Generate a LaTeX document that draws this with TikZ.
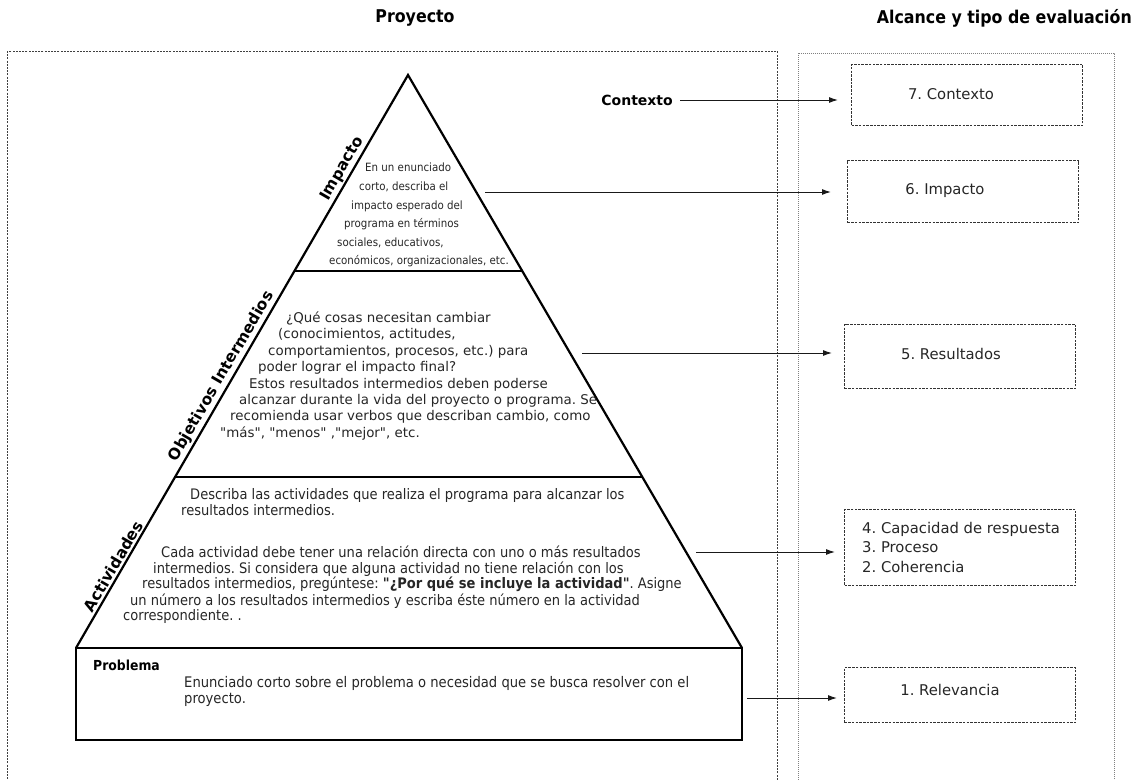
\documentclass[tikz,border=0pt]{standalone}
\usepackage{fontspec}
\setmainfont{DejaVu Sans}[Ligatures=TeXOff]
\newfontfamily\tah{DejaVu Sans}[FakeStretch=0.9,Ligatures=TeXOff]
\usetikzlibrary{arrows.meta,calc}
\begin{document}
\frenchspacing
\begin{tikzpicture}[x=1pt,y=-1pt,
  pyr/.style={line width=2.2pt, black, line join=miter},
  projbox/.style={draw=black!75, line width=0.7pt, dash pattern=on 2pt off 1.2pt},
  evalouter/.style={draw=black!50, line width=0.7pt, dash pattern=on 1.2pt off 0.8pt},
  evalbox/.style={draw=black!80, line width=1pt, dash pattern=on 2.5pt off 1.2pt, inner sep=0pt},
  arr/.style={-{Latex[length=9pt,width=6pt]}, line width=1pt, black!90},
  head/.style={font=\tah\bfseries\fontsize{17.6}{21}\selectfont, inner sep=0pt},
  side/.style={font=\bfseries\fontsize{15.5}{18}\selectfont, inner sep=2.5pt},
  imptext/.style={font=\tah\fontsize{11.4}{14}\selectfont, inner sep=0pt, anchor=base west, text=black!85},
  acttext/.style={font=\tah\fontsize{14.5}{16}\selectfont, inner sep=0pt, anchor=base west, text=black!85},
  probtext/.style={font=\tah\fontsize{14.6}{16}\selectfont, inner sep=0pt, anchor=base west, text=black!85},
  objtext/.style={font=\fontsize{13.4}{16}\selectfont, inner sep=0pt, anchor=base west, text=black!85},
  evaltext/.style={font=\fontsize{14.8}{19.5}\selectfont, text=black!85, inner sep=0pt},
]
\useasboundingbox (0,0) rectangle (1135,779);
\clip (0,0) rectangle (1135,779);

% headings
\node[head] (hproj) at (415,18) {Proyecto};
\node[head, anchor=east] (heval) at (1132,18) {Alcance y tipo de evaluación};

% outer frames
\draw[projbox] (7,51) rectangle (777,800);
\draw[evalouter] (798,53) rectangle (1114,800);

% pyramid
\coordinate (apex) at (408,75);
\coordinate (bl) at (76,648);
\coordinate (br) at (742,648);
\draw[pyr] (bl) -- (apex) -- (br);
\draw[pyr] ($(bl)!0.658!(apex)$) -- ($(br)!0.658!(apex)$);
\draw[pyr] ($(bl)!0.2984!(apex)$) -- ($(br)!0.2984!(apex)$);
\draw[pyr] (bl) rectangle (742,740);

% side labels
\path (bl) -- (apex)
  node[side, pos=0.828, sloped, above] (limp) {Impacto}
  node[side, pos=0.465, sloped, above] (lobj) {Objetivos Intermedios}
  node[side, pos=0.135, sloped, above] (lact) {Actividades};

% impact text
\foreach [count=\i] \x/\y/\t in {
  365/171/{En un enunciado},
  359/190/{corto, describa el},
  351/209/{impacto esperado del},
  344/227/{programa en términos},
  337/246/{sociales, educativos,},
  329/264/{económicos, organizacionales, etc.}}
  \node[imptext] (imp\i) at (\x,\y) {\t};

% objectives text
\foreach [count=\i] \x/\y/\t in {
  286/322/{¿Qué cosas necesitan cambiar},
  278/338/{(conocimientos, actitudes,},
  268/355/{comportamientos, procesos, etc.) para},
  258/371/{poder lograr el impacto final?},
  249/388/{Estos resultados intermedios deben poderse},
  239/404/{alcanzar durante la vida del proyecto o programa. Se},
  230/420/{recomienda usar verbos que describan cambio, como},
  220/437/{"más", "menos" ,"mejor", etc.}}
  \node[objtext] (obj\i) at (\x,\y) {\t};

% activities text
\foreach [count=\i] \x/\y/\t in {
  190/499/{Describa las actividades que realiza el programa para alcanzar los},
  181/515/{resultados intermedios.},
  161/557/{Cada actividad debe tener una relación directa con uno o más resultados},
  153/573/{intermedios. Si considera que alguna actividad no tiene relación con los},
  142/588/{resultados intermedios, pregúntese: \textbf{"¿Por qué se incluye la actividad"}. Asigne},
  130/605/{un número a los resultados intermedios y escriba éste número en la actividad},
  123/620/{correspondiente. .}}
  \node[acttext] (act\i) at (\x,\y) {\t};

% problem
\node[font=\tah\bfseries\fontsize{13.8}{16}\selectfont, anchor=base west, inner sep=0pt] (prob) at (93,670) {Problema};
\node[probtext] (prob1) at (184,687) {Enunciado corto sobre el problema o necesidad que se busca resolver con el};
\node[probtext] (prob2) at (184,703) {proyecto.};

% evaluation boxes
\node[evalbox, anchor=north west, minimum width=231pt, minimum height=61pt] (e7) at (851,64) {};
\node[evalbox, anchor=north west, minimum width=231pt, minimum height=62pt] (e6) at (847,160) {};
\node[evalbox, anchor=north west, minimum width=231pt, minimum height=64pt] (e5) at (844,324) {};
\node[evalbox, anchor=north west, minimum width=231pt, minimum height=76pt] (e4) at (844,509) {};
\node[evalbox, anchor=north west, minimum width=231pt, minimum height=55pt] (e1) at (844,667) {};

\node[evaltext] (t7) at (951,94) {7. Contexto};
\node[evaltext] (t6) at (945,191) {6. Impacto};
\node[evaltext] (t5) at (951,354) {5. Resultados};
\node[evaltext, anchor=west, align=left] (t4) at (862,547) {4. Capacidad de respuesta\\3. Proceso\\2. Coherencia};
\node[evaltext] (t1) at (950,690) {1. Relevancia};

% arrows
\node[font=\bfseries\fontsize{14}{16}\selectfont, anchor=east, inner sep=0pt] (ctx) at (673,100) {Contexto};
\coordinate (a6) at (485,192);
\coordinate (a5) at (582,353);
\coordinate (a4) at (696,552);
\coordinate (a1) at (747,698);
\draw[arr, shorten <=7pt, shorten >=13pt] (ctx.east) -- (ctx.east -| e7.west);
\draw[arr, shorten >=16pt] (a6) -- (a6 -| e6.west);
\draw[arr, shorten >=12pt] (a5) -- (a5 -| e5.west);
\draw[arr, shorten >=9pt] (a4) -- (a4 -| e4.west);
\draw[arr, shorten >=7pt] (a1) -- (a1 -| e1.west);
\end{tikzpicture}
\end{document}
